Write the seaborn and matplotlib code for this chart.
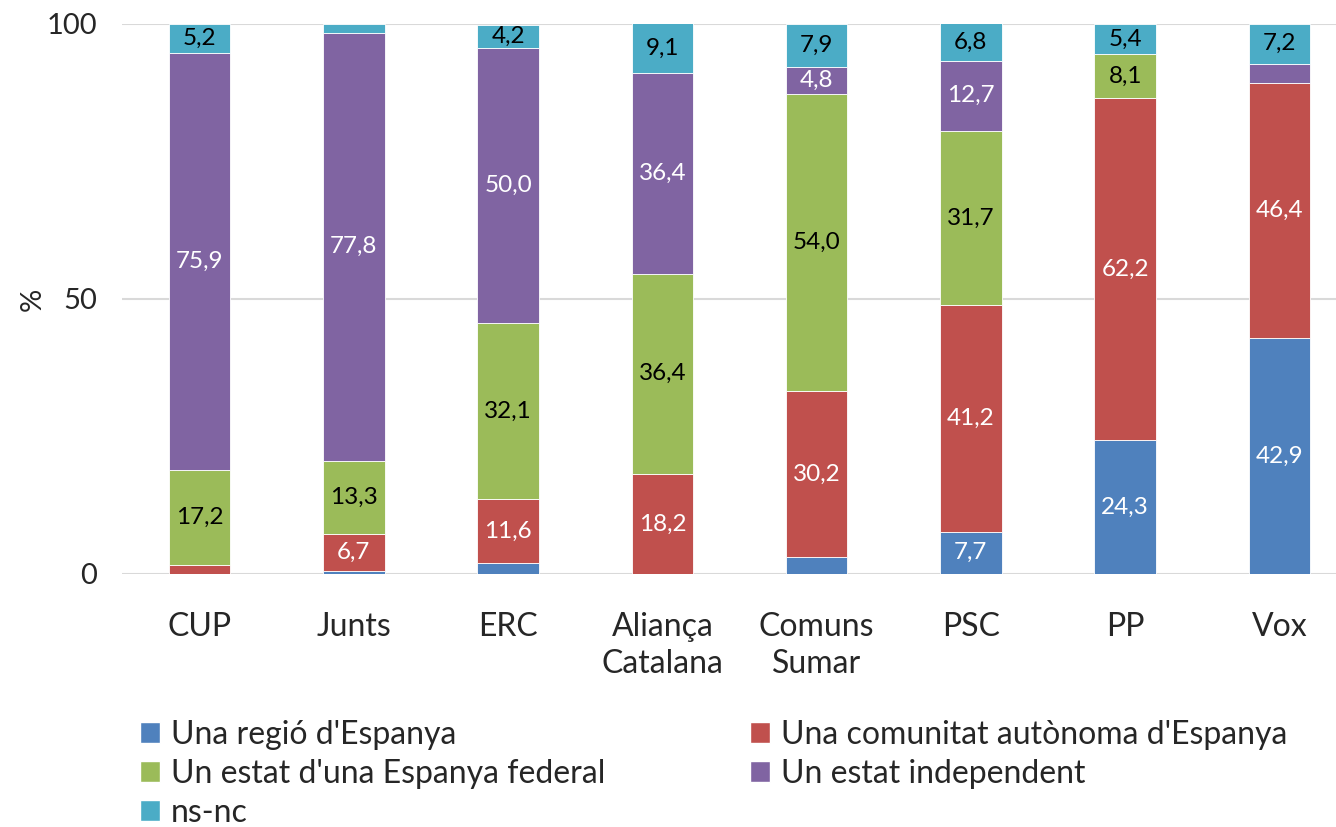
import numpy as np
import matplotlib
matplotlib.use("Agg")
import matplotlib.pyplot as plt
import seaborn as sns
from matplotlib.patches import Patch

parties = ["CUP", "Junts", "ERC", "Aliança\nCatalana", "Comuns\nSumar", "PSC", "PP", "Vox"]
series_names = ["Una regió d'Espanya", "Una comunitat autònoma d'Espanya",
                "Un estat d'una Espanya federal", "Un estat independent", "ns-nc"]
regio = [0.0, 0.6, 2.0, 0.0, 3.1, 7.7, 24.3, 42.9]
comunitat = [1.7, 6.7, 11.6, 18.2, 30.2, 41.2, 62.2, 46.4]
federal = [17.2, 13.3, 32.1, 36.4, 54.0, 31.7, 8.1, 0.0]
independent = [75.9, 77.8, 50.0, 36.4, 4.8, 12.7, 0.0, 3.5]
nsnc = [5.2, 1.6, 4.2, 9.1, 7.9, 6.8, 5.4, 7.2]
colors = ["#4F81BD", "#C0504D", "#9BBB59", "#8064A2", "#4BACC6"]
text_colors = ["white", "white", "black", "white", "black"]

sns.set_style("white")
plt.rcParams["font.family"] = ["Lato", "DejaVu Sans"]

fig = plt.figure(figsize=(13.36, 8.27), dpi=100)
ax = fig.add_axes([122.5 / 1336, 253 / 827, 1234 / 1336, 550 / 827])

bottom = np.zeros(len(parties))
for name, vals, col, tc in zip(series_names, [regio, comunitat, federal, independent, nsnc],
                               colors, text_colors):
    vals = np.array(vals)
    sns.barplot(x=parties, y=vals, bottom=bottom, color=col, width=0.4, errorbar=None,
                ax=ax, edgecolor="white", linewidth=0.6, saturation=1)
    cont = ax.containers[-1]
    labels = [f"{v:.1f}".replace(".", ",") if v >= 4 else "" for v in vals]
    ax.bar_label(cont, labels=labels, label_type="center", color=tc, fontsize=17.5)
    bottom = bottom + vals

ax.set_xlim(-0.5, 7.5)
ax.set_ylim(0, 100)
ax.set_yticks([0, 50, 100])
ax.yaxis.grid(True, color="#d9d9d9", linewidth=1.5)
ax.set_axisbelow(True)
for s in ax.spines.values():
    s.set_visible(False)
ax.tick_params(axis="y", length=0, labelsize=21, pad=18)
ax.tick_params(axis="x", length=0, labelsize=23, pad=27)
for t in ax.get_xticklabels():
    t.set_linespacing(1.32)
ax.set_ylabel("%", fontsize=21)
ax.yaxis.set_label_coords(-0.062, 0.5)
ax.set_xlabel("")

handles = [Patch(facecolor=c) for c in colors]
order = [0, 2, 4, 1, 3]
fig.legend([handles[i] for i in order], [series_names[i] for i in order],
           loc="upper left", bbox_to_anchor=(140 / 1336, 1 - 720 / 827), ncol=2,
           frameon=False, fontsize=23, handlelength=0.62, handleheight=0.62,
           handletextpad=0.35, labelspacing=0.28, columnspacing=4.52,
           borderpad=0, borderaxespad=0)

fig.savefig("out.png", dpi=100)
